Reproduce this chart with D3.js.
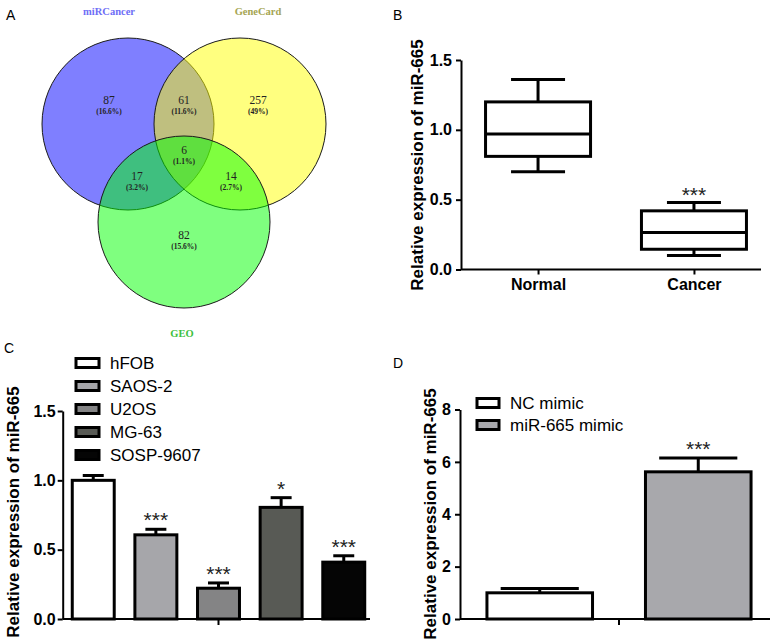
<!DOCTYPE html>
<html>
<head>
<meta charset="utf-8">
<script src="https://cdn.jsdelivr.net/npm/d3@7"></script>
<style>
body { margin: 0; background: #fff; }
svg { display: block; }
.ax path, .ax line { stroke: #000; stroke-width: 2; }
.ax text { font: bold 16px "Liberation Sans", Arial, sans-serif; fill: #000; }
.ytitle { font: bold 17px "Liberation Sans", Arial, sans-serif; }
.panel { font: 14px "Liberation Sans", Arial, sans-serif; }
.legend { font: 17px "Liberation Sans", Arial, sans-serif; }
.star { font: 21px "Liberation Sans", Arial, sans-serif; }
</style>
</head>
<body>
<svg id="fig" width="780" height="643"></svg>
<script>
// ---- panel A : venn
const vennSets = ["miRCancer", "GeneCard", "GEO"];
const vennFill = ["#0000ff", "#ffff00", "#00ff00"];
const vennTitleColor = ["#6e6ef6", "#a5a552", "#3dbf3d"];
const vennRegions = ["A", "AB", "B", "AC", "ABC", "BC", "C"];
const vennCounts = [87, 61, 257, 17, 6, 14, 82];
const vennPercents = ["16.6%", "11.6%", "49%", "3.2%", "1.1%", "2.7%", "15.6%"];

// ---- panel B : box plot
const boxGroups = ["Normal", "Cancer"];
const boxMin = [0.70, 0.10];
const boxQ1 = [0.81, 0.145];
const boxMedian = [0.97, 0.265];
const boxQ3 = [1.20, 0.42];
const boxMax = [1.36, 0.48];
const boxStars = ["", "***"];
const boxTicks = [0, 0.5, 1.0, 1.5];

// ---- panel C : cell lines
const cellLines = ["hFOB", "SAOS-2", "U2OS", "MG-63", "SOSP-9607"];
const cellMeans = [1.0, 0.607, 0.222, 0.805, 0.41];
const cellErrors = [0.035, 0.04, 0.038, 0.07, 0.046];
const cellStars = ["", "***", "***", "*", "***"];
const cellColors = ["#ffffff", "#a6a6aa", "#848485", "#585a55", "#050505"];
const cellTicks = [0, 0.5, 1.0, 1.5];

// ---- panel D : mimic
const mimicGroups = ["NC mimic", "miR-665 mimic"];
const mimicMeans = [1.0, 5.62];
const mimicErrors = [0.16, 0.53];
const mimicStars = ["", "***"];
const mimicColors = ["#ffffff", "#a8a8ac"];
const mimicTicks = [0, 2, 4, 6, 8];

const svg = d3.select("#fig");
const fmt1 = d3.format(".1f");

function panelLetter(t, x, y) {
    svg.append("text").attr("class", "panel").attr("x", x).attr("y", y).text(t);
}

function yTitle(g, x, y) {
    g.append("text")
        .attr("class", "ytitle")
        .attr("transform", `translate(${x},${y}) rotate(-90)`)
        .attr("text-anchor", "middle")
        .text("Relative expression of miR-665");
}

function yAxis(g, y, x0, ticks, f, pad) {
    g.append("g")
        .attr("class", "ax")
        .attr("transform", `translate(${x0},0)`)
        .call(d3.axisLeft(y).tickValues(ticks).tickFormat(f).tickSize(5).tickSizeOuter(0).tickPadding(pad));
}

function xLine(g, x0, x1, y0) {
    g.append("line").attr("x1", x0).attr("x2", x1).attr("y1", y0).attr("y2", y0)
        .attr("stroke", "#000").attr("stroke-width", 2);
}

// ================= A
panelLetter("A", 6, 20);
{
    const g = svg.append("g");
    const r = 86;
    const cx = 184, cy = 157;
    const centers = [[cx - 56, cy - 33], [cx + 56, cy - 33], [cx, cy + 65]];
    g.selectAll("circle.v")
        .data(vennSets)
        .join("circle")
        .attr("cx", (d, i) => centers[i][0])
        .attr("cy", (d, i) => centers[i][1])
        .attr("r", r)
        .attr("fill", (d, i) => vennFill[i])
        .attr("fill-opacity", 0.5)
        .attr("stroke", "#1a1a1a")
        .attr("stroke-width", 1);

    const titlePos = [[109, 15], [258, 15], [182, 337]];
    g.selectAll("text.vt")
        .data(vennSets)
        .join("text")
        .attr("x", (d, i) => titlePos[i][0])
        .attr("y", (d, i) => titlePos[i][1])
        .attr("text-anchor", "middle")
        .attr("fill", (d, i) => vennTitleColor[i])
        .style("font", "bold 10.5px 'Liberation Serif', serif")
        .text(d => d);

    // label anchors, offsets from venn centre
    const anchor = {
        A: [-75, -53], AB: [0, -53], B: [74, -53],
        AC: [-47, 23], ABC: [0, -3], BC: [47, 23], C: [0, 82]
    };
    const lab = g.selectAll("g.vl")
        .data(vennRegions)
        .join("g")
        .attr("transform", d => `translate(${cx + anchor[d][0]},${cy + anchor[d][1]})`);
    lab.append("text")
        .attr("text-anchor", "middle")
        .attr("fill", "#222")
        .style("font", "11.5px 'Liberation Serif', serif")
        .text((d, i) => vennCounts[i]);
    lab.append("text")
        .attr("y", 9.5)
        .attr("text-anchor", "middle")
        .attr("fill", "#222")
        .style("font", "bold 7.5px 'Liberation Serif', serif")
        .text((d, i) => "(" + vennPercents[i] + ")");
}

// ================= B
panelLetter("B", 393, 20);
{
    const g = svg.append("g");
    const x0 = 461, x1 = 761;
    const y = d3.scaleLinear().domain([0, 1.5]).range([269.5, 60]);
    const x = d3.scalePoint().domain(boxGroups).range([471, 761]).padding(0.43);
    const bw = 105, cw = 54;

    yAxis(g, y, x0, boxTicks, fmt1, 4);
    xLine(g, x0, x1, y(0));
    g.append("g")
        .attr("class", "ax")
        .attr("transform", `translate(0,${y(0)})`)
        .call(d3.axisBottom(x).tickSize(5).tickPadding(4.5))
        .call(a => a.select(".domain").remove());
    yTitle(g, 423, 165);

    const box = g.selectAll("g.box")
        .data(boxGroups)
        .join("g")
        .attr("fill", "none")
        .attr("stroke", "#000")
        .attr("stroke-width", 3);
    box.append("line")
        .attr("x1", d => x(d)).attr("x2", d => x(d))
        .attr("y1", (d, i) => y(boxMax[i])).attr("y2", (d, i) => y(boxMin[i]));
    box.append("rect")
        .attr("x", d => x(d) - bw / 2).attr("width", bw)
        .attr("y", (d, i) => y(boxQ3[i]))
        .attr("height", (d, i) => y(boxQ1[i]) - y(boxQ3[i]))
        .attr("fill", "#fff");
    box.append("line")
        .attr("x1", d => x(d) - bw / 2).attr("x2", d => x(d) + bw / 2)
        .attr("y1", (d, i) => y(boxMedian[i])).attr("y2", (d, i) => y(boxMedian[i]));
    box.append("line")
        .attr("x1", d => x(d) - cw / 2).attr("x2", d => x(d) + cw / 2)
        .attr("y1", (d, i) => y(boxMax[i])).attr("y2", (d, i) => y(boxMax[i]));
    box.append("line")
        .attr("x1", d => x(d) - cw / 2).attr("x2", d => x(d) + cw / 2)
        .attr("y1", (d, i) => y(boxMin[i])).attr("y2", (d, i) => y(boxMin[i]));
    g.selectAll("text.star")
        .data(boxGroups)
        .join("text")
        .attr("class", "star")
        .attr("text-anchor", "middle")
        .attr("fill", "#222")
        .attr("x", d => x(d))
        .attr("y", (d, i) => y(boxMax[i]) + 0)
        .text((d, i) => boxStars[i]);
}

// bars with error caps
function barPanel(g, x, y, groups, means, errs, colors, stars, capFrac, starDy) {
    const bar = g.selectAll("g.bar")
        .data(groups)
        .join("g")
        .attr("stroke", "#000")
        .attr("stroke-width", 3);
    bar.append("line")
        .attr("x1", d => x(d) + x.bandwidth() / 2)
        .attr("x2", d => x(d) + x.bandwidth() / 2)
        .attr("y1", (d, i) => y(means[i]))
        .attr("y2", (d, i) => y(means[i] + errs[i]));
    bar.append("line")
        .attr("x1", d => x(d) + x.bandwidth() * (1 - capFrac) / 2)
        .attr("x2", d => x(d) + x.bandwidth() * (1 + capFrac) / 2)
        .attr("y1", (d, i) => y(means[i] + errs[i]))
        .attr("y2", (d, i) => y(means[i] + errs[i]));
    bar.append("rect")
        .attr("x", d => x(d))
        .attr("width", x.bandwidth())
        .attr("y", (d, i) => y(means[i]))
        .attr("height", (d, i) => y(0) - y(means[i]))
        .attr("fill", (d, i) => colors[i]);
    g.selectAll("text.star")
        .data(groups)
        .join("text")
        .attr("class", "star")
        .attr("text-anchor", "middle")
        .attr("fill", "#222")
        .attr("x", d => x(d) + x.bandwidth() / 2)
        .attr("y", (d, i) => y(means[i] + errs[i]) + starDy)
        .text((d, i) => stars[i]);
}

function legend(g, groups, colors, bx, by, step, bwid) {
    const row = g.selectAll("g.lg")
        .data(groups)
        .join("g")
        .attr("transform", (d, i) => `translate(${bx},${by + i * step})`);
    row.append("rect")
        .attr("x", 0).attr("y", -4.5)
        .attr("width", bwid).attr("height", 9)
        .attr("fill", (d, i) => colors[i])
        .attr("stroke", "#000").attr("stroke-width", 3);
    row.append("text")
        .attr("class", "legend")
        .attr("x", bwid + 11)
        .attr("dy", "0.36em")
        .text(d => d);
}

// ================= C
panelLetter("C", 4, 353);
{
    const g = svg.append("g");
    const x0 = 62.7, x1 = 370;
    const y = d3.scaleLinear().domain([0, 1.5]).range([619, 411]);
    const x = d3.scaleBand().domain(cellLines).range([66, 371]).paddingInner(0.33).paddingOuter(0.1);

    barPanel(g, x, y, cellLines, cellMeans, cellErrors, cellColors, cellStars, 0.5, -2);
    yAxis(g, y, x0, cellTicks, fmt1, 2);
    xLine(g, x0, x1, y(0));
    const mid = (x(cellLines[0]) + x(cellLines[cellLines.length - 1]) + x.bandwidth()) / 2;
    g.append("line").attr("x1", mid).attr("x2", mid).attr("y1", y(0)).attr("y2", y(0) + 6)
        .attr("stroke", "#000").attr("stroke-width", 2);
    yTitle(g, 19, 512);
    legend(g, cellLines, cellColors, 76, 363, 23, 23);
}

// ================= D
panelLetter("D", 393, 368);
{
    const g = svg.append("g");
    const x0 = 460, x1 = 770;
    const y = d3.scaleLinear().domain([0, 8]).range([619, 409.5]);
    const x = d3.scaleBand().domain(mimicGroups).range([460, 778]).paddingInner(0.334).paddingOuter(0.17);

    barPanel(g, x, y, mimicGroups, mimicMeans, mimicErrors, mimicColors, mimicStars, 0.74, -2);
    yAxis(g, y, x0, mimicTicks, d3.format("d"), 4);
    xLine(g, x0, x1, y(0));
    const mid = (x(mimicGroups[0]) + x(mimicGroups[1]) + x.bandwidth()) / 2;
    g.append("line").attr("x1", mid).attr("x2", mid).attr("y1", y(0)).attr("y2", y(0) + 6)
        .attr("stroke", "#000").attr("stroke-width", 2);
    yTitle(g, 436, 514);
    legend(g, mimicGroups, mimicColors, 477, 403, 22, 22);
}
</script>
</body>
</html>
